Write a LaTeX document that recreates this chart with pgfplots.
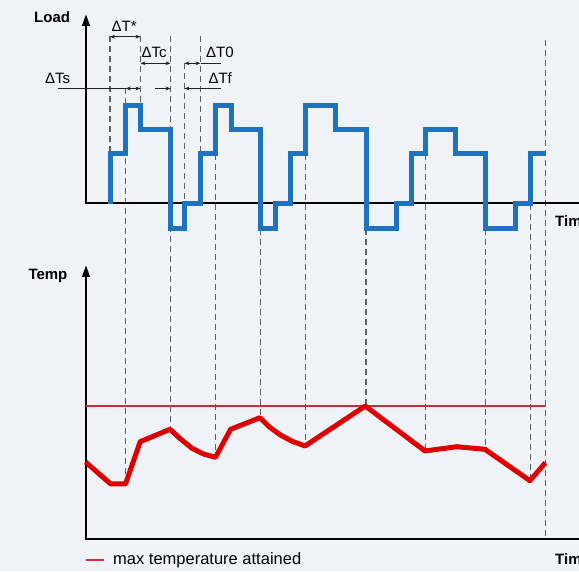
\documentclass[border=0pt]{standalone}
\usepackage{fontspec}
\setmainfont{Liberation Sans}
\usepackage{pgfplots}
\pgfplotsset{compat=1.18}
\usetikzlibrary{arrows.meta}

\definecolor{bgcol}{RGB}{239,243,248}
\definecolor{loadblue}{RGB}{31,114,189}
\definecolor{tempred}{RGB}{222,0,0}
\definecolor{maxred}{RGB}{205,45,55}
\definecolor{guidegray}{RGB}{95,95,95}
\definecolor{annot}{RGB}{35,35,35}

\newcommand{\lbl}{\fontsize{15}{18}\selectfont}

\begin{document}
\begin{tikzpicture}[
    guide/.style={guidegray, line width=1.4pt, dash pattern=on 6pt off 4pt},
    ax/.style={black, line width=2.6pt},
    dim/.style={annot, line width=1pt},
    tip/.style={-{Stealth[length=5pt,width=3.8pt]}},
    tips/.style={{Stealth[length=5pt,width=3.8pt]}-{Stealth[length=5pt,width=3.8pt]}},
  ]
\begin{axis}[
    x=1pt, y=1pt,
    xmin=0, xmax=579, ymin=0, ymax=571,
    hide axis, clip=false,
  ]
  \coordinate (ll) at (0,0);
  \coordinate (ur) at (579,571);
  \fill[bgcol] (0,0) rectangle (579,571);

  % guide lines
  \draw[guide] (110,535) -- (110,417);
  \draw[guide] (125.7,483) -- (125.7,87);
  \draw[guide] (140.5,535) -- (140.5,465);
  \draw[guide] (170.5,535) -- (170.5,142);
  \draw[guide] (184.5,508) -- (184.5,367);
  \draw[guide] (200.5,535) -- (200.5,417);
  \draw[guide] (215.5,417) -- (215.5,114);
  \draw[guide] (260.5,342) -- (260.5,153);
  \draw[guide] (305.5,417) -- (305.5,125);
  \draw[guide] (366,342) -- (366,165);
  \draw[guide] (425.7,417) -- (425.7,120);
  \draw[guide] (485.7,342) -- (485.7,122);
  \draw[guide] (530.5,367) -- (530.5,90);
  \draw[guide] (545.7,531) -- (545.7,32);

  % axes
  \draw[ax] (86,368) -- (579,368);
  \draw[ax, -{Triangle[length=12pt,width=7.5pt]}] (86,367) -- (86,557);
  \draw[ax] (86,32) -- (579,32);
  \draw[ax, -{Triangle[length=12pt,width=7.5pt]}] (86,31) -- (86,306);

  % max temperature line
  \addplot[maxred, line width=1.2pt] coordinates {(86,165) (546,165)};

  % load
  \addplot[loadblue, line width=5pt, line join=miter] coordinates {
    (110,367) (110,417) (125.7,417) (125.7,465) (140.5,465) (140.5,441)
    (170.5,441) (170.5,342) (184.5,342) (184.5,367) (200.5,367) (200.5,417)
    (215.5,417) (215.5,465) (231,465) (231,441) (260.5,441) (260.5,342)
    (275,342) (275,367) (290.5,367) (290.5,417) (305.5,417) (305.5,465)
    (335.7,465) (335.7,441) (366,441) (366,342) (396,342) (396,367)
    (411.7,367) (411.7,417) (425.7,417) (425.7,441) (455.7,441) (455.7,417)
    (485.7,417) (485.7,342) (515.7,342) (515.7,367) (530.5,367) (530.5,417)
    (546,417)
  };

  % temperature
  \addplot[tempred, line width=5pt, line join=round] coordinates {
    (85.6,109) (110.7,87) (125.5,87) (140.2,129.3) (170,141.7)
    (180,132.5) (192,122.7) (204,116.8) (215.5,113.7) (230.6,141.7)
    (260,153.3) (270,143.5) (280.4,136) (292,129.8) (305,125)
    (365.3,165) (425,120) (456.5,124.3) (485,121.7) (530,90.3) (545.4,108.3)
  };

  % dimension marks
  \draw[dim, tips] (110,534.3) -- (140.5,534.3);
  \draw[dim, tips] (140.5,507.7) -- (170.5,507.7);
  \draw[dim, tips] (184.5,507.7) -- (200.5,507.7);
  \draw[dim] (200.5,507.7) -- (221,507.7);
  \draw[dim] (58,482.5) -- (125.7,482.5);
  \draw[dim, tips] (125.7,482.5) -- (140.5,482.5);
  \draw[dim, tip] (155,482.5) -- (170.5,482.5);
  \draw[dim, tip] (221,482.5) -- (184.5,482.5);

  % texts
  \node[anchor=base west, inner sep=0] at (34,548.3) {\lbl\bfseries Load};
  \node[anchor=base west, inner sep=0] at (111.5,539.5) {\lbl ΔT*};
  \node[anchor=base west, inner sep=0] at (141.5,513.3) {\lbl ΔTc};
  \node[anchor=base west, inner sep=0] at (206,513.3) {\lbl ΔT0};
  \node[anchor=base west, inner sep=0] at (208.3,487.7) {\lbl ΔTf};
  \node[anchor=base west, inner sep=0] at (45,487) {\lbl ΔTs};
  \node[anchor=base west, inner sep=0] at (28.3,291.7) {\lbl\bfseries Temp};
  \node[anchor=base west, inner sep=0] at (555,344.3) {\lbl\bfseries Time};
  \node[anchor=base west, inner sep=0] at (555,6) {\lbl\bfseries Time};

  % legend
  \draw[maxred, line width=1.2pt] (86,11) -- (104,11);
  \node[anchor=base west, inner sep=0] at (113,6.5) {\fontsize{16.5}{19}\selectfont max temperature attained};
\end{axis}
\pgfresetboundingbox
\useasboundingbox (ll) rectangle (ur);
\end{tikzpicture}
\end{document}
